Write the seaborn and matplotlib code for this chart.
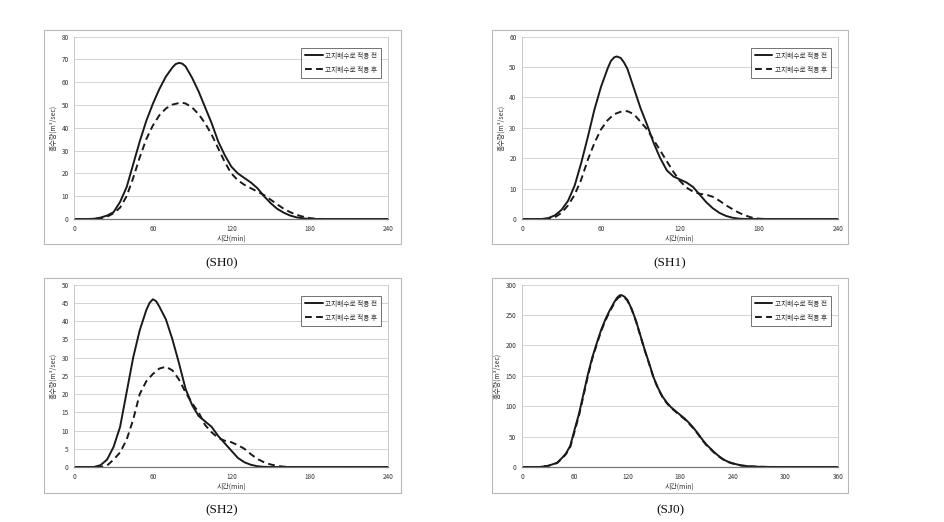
import numpy as np
import pandas as pd
import matplotlib
matplotlib.use("Agg")
import matplotlib.pyplot as plt
from matplotlib.patches import Rectangle
import seaborn as sns

# ---------------- data ----------------
legend_before = "고지배수로 적용 전"
legend_after = "고지배수로 적용 후"
panel_names = ["(SH0)", "(SH1)", "(SH2)", "(SJ0)"]

sh0_t_before = [0, 10, 15, 20, 25, 30, 35, 40, 45, 50, 55, 60, 65, 70, 75, 77.5, 80, 82.5, 85, 90, 95, 100, 105,
                110, 115, 120, 125, 130, 135, 140, 145, 150, 155, 160, 165, 170, 175, 180, 240]
sh0_q_before = [0, 0, 0.1, 0.6, 1.5, 3, 7.5, 14, 24, 34, 43, 50.5, 57, 62.5, 66.5, 68, 68.5, 68.2, 67, 62, 56, 49,
                42, 34, 28, 23, 20, 18, 16, 13.5, 10, 7, 4.5, 2.8, 1.5, 0.7, 0.3, 0, 0]
sh0_t_after = [0, 15, 20, 25, 30, 35, 40, 45, 50, 55, 60, 65, 70, 75, 80, 82.5, 85, 90, 95, 100, 105, 110, 115,
               120, 125, 130, 135, 140, 145, 150, 155, 160, 165, 170, 175, 180, 185, 190, 240]
sh0_q_after = [0, 0, 0.3, 1, 2.5, 5, 10, 18, 27, 35, 41, 45.5, 48.5, 50.2, 50.9, 51, 50.7, 49, 46, 42, 37, 31,
               25, 20, 17, 15, 13.5, 12, 10.5, 8.5, 6.5, 4.5, 3, 1.8, 1, 0.4, 0.1, 0, 0]

sh1_t_before = [0, 15, 20, 25, 30, 35, 40, 45, 50, 55, 60, 65, 67.5, 70, 72, 75, 77.5, 80, 85, 90, 95, 100, 105,
                110, 115, 120, 125, 130, 135, 140, 145, 150, 155, 160, 165, 170, 240]
sh1_q_before = [0, 0, 0.3, 1.2, 3, 6, 11, 18.5, 27, 36, 43.5, 49.5, 52, 53.2, 53.5, 53, 51.5, 49.5, 43, 36.5, 31,
                25, 20, 16, 14, 13, 12, 10.5, 8, 5.5, 3.5, 2, 1, 0.4, 0.1, 0, 0]
sh1_t_after = [0, 20, 25, 30, 35, 40, 45, 50, 55, 60, 65, 70, 75, 80, 85, 90, 95, 100, 105, 110, 115, 120, 125,
               130, 135, 140, 145, 150, 155, 160, 165, 170, 175, 180, 185, 240]
sh1_q_after = [0, 0, 0.6, 2, 4.5, 8, 13, 19.5, 25, 29.5, 32.5, 34.5, 35.3, 35.5, 34.5, 32, 29.5, 26, 22.5, 19,
               15.5, 12.5, 10.3, 9, 8.3, 8, 7.3, 6, 4.5, 3.2, 2, 1.1, 0.4, 0.1, 0, 0]

sh2_t_before = [0, 15, 20, 25, 30, 35, 40, 45, 50, 55, 57.5, 60, 62.5, 65, 70, 75, 80, 85, 90, 95, 100, 105, 110,
                115, 120, 125, 130, 135, 140, 145, 150, 240]
sh2_q_before = [0, 0, 0.5, 2, 5.5, 11, 20.5, 30, 37.5, 43, 45, 46, 45.5, 44, 40.5, 35, 28.5, 21.5, 17, 14, 12.5,
                11, 8.5, 6.5, 4.5, 2.5, 1.3, 0.6, 0.2, 0.05, 0, 0]
sh2_t_after = [0, 20, 25, 30, 35, 40, 45, 50, 55, 60, 65, 70, 75, 80, 85, 90, 95, 100, 105, 110, 115, 120, 125,
               130, 135, 140, 145, 150, 155, 160, 165, 240]
sh2_q_after = [0, 0, 0.4, 2, 4, 7.5, 13, 20, 23.5, 25.5, 27, 27.5, 26.5, 24, 20.5, 17.5, 15, 11.5, 9.5, 8, 7.2,
               6.8, 6, 5, 3.5, 2.2, 1.3, 0.7, 0.3, 0.1, 0, 0]

sj0_t_before = [0, 20, 30, 40, 45, 50, 55, 60, 65, 70, 75, 80, 85, 90, 95, 100, 105, 108, 110, 112, 114, 117, 120,
                125, 130, 135, 140, 145, 150, 155, 160, 165, 170, 175, 180, 185, 190, 195, 200, 205, 210, 215,
                220, 225, 230, 235, 240, 250, 260, 270, 280, 300, 360]
sj0_q_before = [0, 0, 2, 7, 14, 22, 35, 62, 88, 120, 152, 180, 203, 225, 243, 258, 271, 278, 281, 283, 282.5,
                280, 275, 260, 240, 216, 192, 170, 147, 130, 116, 106, 98, 92, 86, 80, 73, 65, 56, 46, 37, 30,
                23, 17, 12, 8.5, 6, 2.5, 1, 0.4, 0.1, 0, 0]
sj0_t_after = [0, 20, 30, 40, 45, 50, 55, 60, 65, 70, 75, 80, 85, 90, 95, 100, 105, 108, 110, 113, 115, 117, 120,
               125, 130, 135, 140, 145, 150, 155, 160, 165, 170, 175, 180, 185, 190, 195, 200, 205, 210, 215,
               220, 225, 230, 235, 240, 250, 260, 270, 280, 300, 360]
sj0_q_after = [0, 0, 2, 6.5, 13, 21, 33, 59, 85, 117, 149, 178, 201, 223, 241, 256, 269, 276, 279, 281, 280.5,
               278.5, 274, 259, 239, 215, 191, 169, 146, 129, 115, 105, 97, 91, 85, 79, 72, 64, 55, 45, 36, 29,
               22, 16.5, 11.5, 8, 5.8, 2.4, 1, 0.4, 0.1, 0, 0]

x_ticks_240 = [0, 60, 120, 180, 240]
x_ticks_360 = [0, 60, 120, 180, 240, 300, 360]
y_ticks = [list(range(0, 81, 10)), list(range(0, 61, 10)), list(range(0, 51, 5)), list(range(0, 301, 50))]
x_label = "시간(min)"
y_label = "홍수량(m³/sec)"

series = [
    (sh0_t_before, sh0_q_before, sh0_t_after, sh0_q_after),
    (sh1_t_before, sh1_q_before, sh1_t_after, sh1_q_after),
    (sh2_t_before, sh2_q_before, sh2_t_after, sh2_q_after),
    (sj0_t_before, sj0_q_before, sj0_t_after, sj0_q_after),
]
x_ticks_all = [x_ticks_240, x_ticks_240, x_ticks_240, x_ticks_360]

# ---------------- style ----------------
sns.set_style("white")
plt.rcParams['font.family'] = ['Noto Sans CJK KR', 'DejaVu Sans']
plt.rcParams['lines.solid_joinstyle'] = 'round'
plt.rcParams['lines.dash_joinstyle'] = 'round'

W, H = 945, 522
fig = plt.figure(figsize=(W / 100, H / 100), dpi=100)

def fx(px):
    return px / W

def fy(py):
    return 1 - py / H

# axes pixel boxes: left, right, top, bottom
ax_boxes = [(74.3, 388.3, 36.7, 219), (522, 838, 36.7, 219), (74.3, 388.3, 284.7, 467), (522, 838, 284.7, 467)]
frames = [(44, 401, 30, 244), (492, 848, 30, 244), (44, 401, 278, 493), (492, 848, 278, 493)]
captions = [(222, 263), (670, 263), (222, 510), (670, 510)]

for i in range(4):
    fl, fr, ft, fb = frames[i]
    fig.patches.append(Rectangle((fx(fl), fy(fb)), fx(fr - fl), (fb - ft) / H, transform=fig.transFigure,
                                 fill=False, edgecolor="#b8b8b8", linewidth=0.8))
    l, r, t, b = ax_boxes[i]
    ax = fig.add_axes([fx(l), fy(b), fx(r - l), (b - t) / H])
    tb, qb, ta, qa = series[i]
    df = pd.concat([
        pd.DataFrame({"t": tb, "q": qb, "s": legend_before}),
        pd.DataFrame({"t": ta, "q": qa, "s": legend_after}),
    ], ignore_index=True)
    sns.lineplot(data=df, x="t", y="q", style="s", hue="s",
                 palette={legend_before: "#1a1a1a", legend_after: "#1a1a1a"},
                 dashes={legend_before: "", legend_after: (3.5, 2.2)},
                 linewidth=1.4, ax=ax, legend=True, estimator=None, sort=False)
    xt = x_ticks_all[i]
    ax.set_xlim(xt[0], xt[-1])
    ax.set_ylim(y_ticks[i][0], y_ticks[i][-1])
    ax.set_xticks(xt)
    ax.set_yticks(y_ticks[i])
    ax.tick_params(axis="both", labelsize=4.6, length=2, width=0.5, color="#888888", pad=2,
                   labelcolor="#333333")
    ax.yaxis.grid(True, color="#d4d4d4", linewidth=0.7)
    ax.xaxis.grid(False)
    for side in ["top", "right", "left"]:
        ax.spines[side].set_color("#c8c8c8")
        ax.spines[side].set_linewidth(0.7)
    ax.spines["top"].set_visible(False)
    ax.spines["bottom"].set_color("#777777")
    ax.spines["bottom"].set_linewidth(0.9)
    ax.set_xlabel(x_label, fontsize=5, color="#333333", labelpad=1.5)
    ax.set_ylabel(y_label, fontsize=5, color="#333333", labelpad=3)
    leg = ax.legend(loc="upper right", bbox_to_anchor=(0.978, 0.94), fontsize=4.8, frameon=True,
                    fancybox=False, edgecolor="#333333", handlelength=2.6, handletextpad=0.4,
                    borderpad=0.6, labelspacing=0.9, borderaxespad=0)
    leg.get_frame().set_linewidth(0.6)
    for txt in leg.get_texts():
        txt.set_color("#333333")
    cx, cy = captions[i]
    fig.text(fx(cx), fy(cy), panel_names[i], ha="center", va="center", fontsize=9.5,
             family="Liberation Serif", color="#111111")

fig.savefig("out.png", dpi=100)
